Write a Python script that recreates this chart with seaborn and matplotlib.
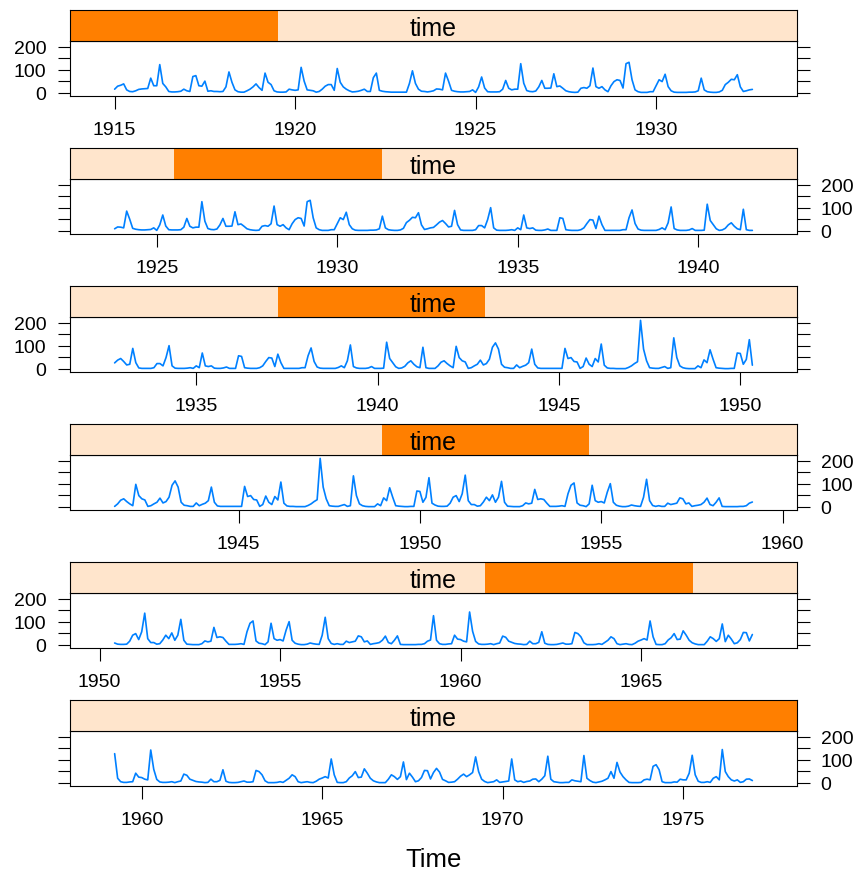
import numpy as np
import pandas as pd
import matplotlib
matplotlib.use("Agg")
import matplotlib.pyplot as plt
from matplotlib.patches import Rectangle
from matplotlib.ticker import MultipleLocator, FixedLocator
import seaborn as sns

# ---------------- data (monthly values, Jan 1915 - Dec 1976) ----------------
start_year = 1915
flow_1915_1924 = [
    15, 28, 32, 38, 12, 5, 4, 8, 14, 16, 17, 18,
    63, 30, 30, 122, 40, 25, 5, 3, 3, 4, 6, 15,
    8, 5, 70, 74, 30, 28, 50, 6, 8, 5, 5, 4,
    5, 25, 90, 45, 12, 4, 2, 2, 8, 15, 25, 38,
    22, 10, 85, 45, 35, 8, 3, 2, 2, 3, 15, 12,
    10, 12, 110, 50, 12, 10, 8, 2, 5, 15, 28, 35,
    35, 10, 105, 45, 25, 15, 8, 3, 4, 6, 10, 15,
    5, 5, 65, 85, 10, 6, 4, 3, 2, 2, 2, 2,
    2, 2, 40, 95, 40, 15, 6, 5, 3, 5, 8, 16,
    15, 12, 85, 50, 10, 6, 4, 3, 3, 4, 5, 12]
flow_1925_1934 = [
    1, 25, 68, 20, 4, 3, 3, 3, 4, 15, 53, 19,
    12, 15, 15, 126, 41, 9, 5, 4, 7, 25, 53, 19,
    19, 20, 82, 26, 29, 19, 8, 4, 2, 1, 2, 19,
    22, 19, 30, 107, 26, 19, 26, 12, 4, 30, 48, 56,
    53, 20, 126, 132, 56, 12, 4, 1, 1, 1, 4, 4,
    30, 56, 48, 80, 26, 8, 2, 1, 1, 1, 1, 2,
    2, 3, 8, 63, 12, 4, 2, 1, 1, 3, 10, 35,
    45, 58, 56, 78, 25, 5, 8, 12, 14, 25, 37, 44,
    31, 16, 19, 88, 26, 3, 1, 1, 1, 1, 4, 22,
    22, 12, 48, 100, 12, 2, 1, 1, 1, 2, 4, 1]
flow_1935_1944 = [
    12, 4, 68, 12, 9, 12, 2, 1, 1, 3, 7, 1,
    1, 1, 56, 53, 4, 2, 1, 1, 1, 4, 12, 31,
    48, 46, 9, 63, 26, 1, 1, 1, 1, 1, 1, 4,
    4, 56, 90, 31, 7, 2, 1, 1, 1, 1, 1, 5,
    12, 4, 34, 103, 9, 3, 1, 1, 1, 3, 9, 1,
    1, 1, 2, 115, 44, 26, 8, 1, 3, 10, 25, 34,
    19, 8, 4, 93, 4, 1, 1, 1, 12, 28, 34, 22,
    12, 4, 97, 48, 34, 29, 1, 4, 12, 19, 37, 16,
    22, 41, 93, 112, 85, 19, 6, 4, 1, 1, 16, 4,
    10, 15, 26, 85, 19, 3, 1, 1, 1, 1, 1, 1]
flow_1945_1954 = [
    1, 1, 88, 44, 48, 31, 29, 1, 9, 46, 19, 9,
    44, 29, 107, 15, 3, 1, 1, 0, 0, 0, 0, 5,
    12, 22, 30, 210, 85, 34, 4, 2, 1, 1, 5, 9,
    1, 4, 134, 48, 12, 4, 1, 0, 0, 0, 12, 4,
    38, 26, 82, 41, 4, 2, 1, 0, 0, 1, 1, 68,
    66, 19, 40, 126, 15, 7, 2, 1, 1, 2, 15, 41,
    48, 22, 56, 137, 26, 9, 9, 2, 4, 20, 41, 26,
    51, 19, 41, 110, 19, 2, 1, 0, 0, 0, 4, 16,
    12, 15, 75, 31, 34, 31, 15, 1, 1, 1, 2, 4,
    1, 56, 93, 103, 16, 6, 4, 0, 12, 93, 26, 19]
flow_1955_1964 = [
    22, 16, 63, 100, 19, 6, 2, 0, 0, 2, 7, 4,
    2, 1, 41, 119, 26, 5, 1, 4, 1, 1, 15, 9,
    12, 15, 38, 34, 12, 16, 1, 4, 6, 9, 19, 37,
    9, 4, 19, 38, 1, 0, 0, 0, 0, 0, 1, 1,
    4, 15, 20, 126, 19, 4, 1, 1, 3, 4, 41, 24,
    22, 15, 12, 142, 58, 14, 3, 1, 1, 2, 4, 0,
    4, 7, 37, 32, 15, 10, 5, 3, 2, 0, 1, 15,
    4, 4, 10, 56, 6, 1, 0, 0, 1, 4, 7, 2,
    2, 4, 53, 48, 34, 8, 0, 0, 0, 1, 4, 1,
    10, 19, 34, 26, 4, 0, 2, 4, 1, 0, 6, 15]
flow_1965_1976 = [
    20, 26, 20, 103, 34, 1, 0, 0, 4, 20, 30, 48,
    22, 24, 60, 41, 19, 8, 3, 0, 0, 0, 15, 34,
    26, 14, 26, 90, 13, 41, 24, 4, 8, 22, 53, 52,
    16, 44, 62, 46, 14, 8, 1, 2, 4, 15, 28, 37,
    26, 34, 44, 112, 48, 15, 5, 0, 2, 4, 12, 1,
    3, 5, 7, 103, 12, 4, 7, 1, 5, 7, 15, 16,
    4, 15, 30, 115, 15, 4, 2, 0, 0, 1, 1, 12,
    8, 6, 4, 118, 19, 9, 2, 0, 3, 6, 12, 19,
    48, 19, 88, 46, 26, 12, 1, 0, 0, 0, 1, 12,
    15, 12, 71, 78, 56, 4, 0, 0, 0, 3, 2, 15,
    12, 12, 41, 119, 34, 6, 1, 1, 4, 1, 19, 26,
    12, 144, 48, 26, 12, 7, 12, 1, 4, 15, 16, 9]

strip_label = "time"
x_label = "Time"
y_ticks = [0, 50, 100, 150, 200]
y_tick_labels = ["0", "", "100", "", "200"]
n_panels = 6
overlap = 0.5

flow = np.array(flow_1915_1924 + flow_1925_1934 + flow_1935_1944 +
                flow_1945_1954 + flow_1955_1964 + flow_1965_1976, dtype=float)
time = start_year + np.arange(len(flow)) / 12.0
df = pd.DataFrame({"time": time, "flow": flow})


# lattice-style equal.count shingle intervals
def co_intervals(x, number=6, ov=0.5):
    xs = np.sort(x)
    n = len(xs)
    r = n / (number * (1 - ov) + ov)
    ii = np.arange(number) * (1 - ov) * r
    x1 = xs[np.round(1 + ii).astype(int) - 1]
    xr = xs[np.round(r + ii).astype(int) - 1]
    jump = np.diff(xs)
    eps = 0.5 * jump[jump > 0].min()
    return x1 - eps, xr + eps


lo, hi = co_intervals(time, n_panels, overlap)
smin, smax = lo.min(), hi.max()

# ---------------- style ----------------
sns.set_style("ticks")
plt.rcParams["font.family"] = ["Liberation Sans", "DejaVu Sans"]
plt.rcParams["text.color"] = "black"
plt.rcParams["axes.labelcolor"] = "black"
plt.rcParams["xtick.color"] = "black"
plt.rcParams["ytick.color"] = "black"

W, H = 863, 878
fig = plt.figure(figsize=(W / 100, H / 100), dpi=100)

left_px, right_px = 70, 797
line_col = "#0080ff"
strip_bg = "#FFE5CC"
strip_fg = "#FF7F00"

ymin, ymax = flow.min(), flow.max()
ypad = 0.07 * (ymax - ymin)

for i in range(n_panels):
    strip_top = 11 + 138 * i
    strip_bot = 42 + 138 * i
    pan_bot = 97 + 138 * i
    ax = fig.add_axes([left_px / W, 1 - pan_bot / H,
                       (right_px - left_px) / W, (pan_bot - strip_bot) / H])
    sax = fig.add_axes([left_px / W, 1 - strip_bot / H,
                        (right_px - left_px) / W, (strip_bot - strip_top) / H])

    sub = df[(df["time"] >= lo[i]) & (df["time"] <= hi[i])]
    sns.lineplot(data=sub, x="time", y="flow", ax=ax, color=line_col,
                 linewidth=1.2, estimator=None, sort=False)
    xr0, xr1 = sub["time"].min(), sub["time"].max()
    xpad = 0.07 * (xr1 - xr0)
    ax.set_xlim(xr0 - xpad, xr1 + xpad)
    ax.set_ylim(ymin - ypad, ymax + ypad)
    ax.set_xlabel("")
    ax.set_ylabel("")
    ax.xaxis.set_major_locator(MultipleLocator(5))
    ax.xaxis.set_major_formatter(matplotlib.ticker.FormatStrFormatter("%d"))
    ax.yaxis.set_major_locator(FixedLocator(y_ticks))
    ax.set_yticklabels(y_tick_labels)
    ax.tick_params(axis="x", bottom=True, top=False, direction="out",
                   length=9, width=0.8, labelsize=14, pad=9,
                   colors="black", labelcolor="black")
    left_lab = (i % 2 == 0)
    ax.tick_params(axis="y", left=True, right=True, labelleft=left_lab,
                   labelright=not left_lab, direction="out", length=9,
                   width=0.8, labelsize=14, pad=8,
                   colors="black", labelcolor="black")
    for sp in ax.spines.values():
        sp.set_visible(True)
        sp.set_color("black")
        sp.set_linewidth(0.8)

    # strip
    sax.set_xlim(0, 1)
    sax.set_ylim(0, 1)
    sax.add_patch(Rectangle((0, 0), 1, 1, facecolor=strip_bg, edgecolor="none"))
    a = (lo[i] - smin) / (smax - smin)
    b = (hi[i] - smin) / (smax - smin)
    sax.add_patch(Rectangle((a, 0), b - a, 1, facecolor=strip_fg, edgecolor="none"))
    sax.text(0.5, 0.42, strip_label, ha="center", va="center",
             fontsize=18, color="black")
    sax.set_xticks([])
    sax.set_yticks([])
    for sp in sax.spines.values():
        sp.set_visible(True)
        sp.set_color("black")
        sp.set_linewidth(0.8)

fig.text((left_px + right_px) / 2 / W, 1 - 860 / H, x_label,
         ha="center", va="center", fontsize=18.5, color="black")

fig.savefig("out.png", dpi=100)
